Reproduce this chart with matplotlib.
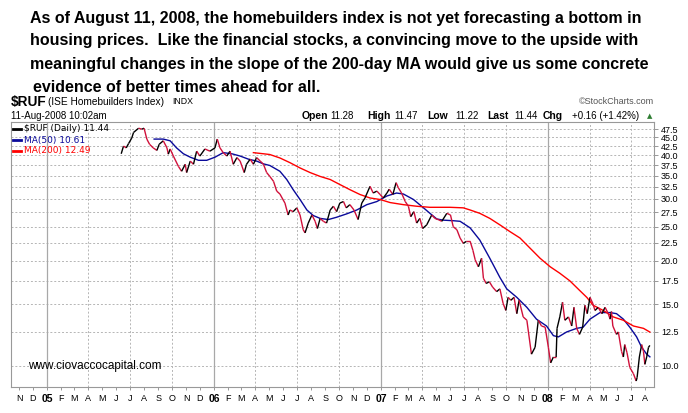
import pandas as pd
import matplotlib
matplotlib.use("Agg")
import matplotlib.pyplot as plt
import matplotlib.dates as mdates
from matplotlib.collections import LineCollection

# -----------------------------
# 1. Values
# -----------------------------
price_dates = [
    "2005-06-12", "2005-06-17", "2005-06-23", "2005-06-28", "2005-07-05", "2005-07-09",
    "2005-07-20", "2005-07-27", "2005-08-01", "2005-08-07", "2005-08-13", "2005-08-21",
    "2005-08-29", "2005-09-03", "2005-09-12", "2005-09-20", "2005-09-23", "2005-09-27",
    "2005-10-04", "2005-10-15", "2005-10-22", "2005-10-30", "2005-11-02", "2005-11-10",
    "2005-11-17", "2005-11-24", "2005-12-01", "2005-12-12", "2005-12-23", "2006-01-03",
    "2006-01-08", "2006-01-14", "2006-01-21", "2006-01-29", "2006-02-05", "2006-02-12",
    "2006-02-20", "2006-02-27", "2006-03-08", "2006-03-13", "2006-03-21", "2006-03-28",
    "2006-04-04", "2006-04-12", "2006-04-19", "2006-04-26", "2006-05-03", "2006-05-11",
    "2006-05-18", "2006-05-25", "2006-06-05", "2006-06-12", "2006-06-16", "2006-06-23",
    "2006-07-01", "2006-07-08", "2006-07-15", "2006-07-19", "2006-07-26", "2006-08-03",
    "2006-08-10", "2006-08-15", "2006-08-21", "2006-08-28", "2006-09-04", "2006-09-12",
    "2006-09-19", "2006-09-26", "2006-10-03", "2006-10-11", "2006-10-17", "2006-10-25",
    "2006-11-03", "2006-11-12", "2006-11-20", "2006-11-27", "2006-12-08", "2006-12-15",
    "2006-12-23", "2006-12-30", "2007-01-06", "2007-01-14", "2007-01-19", "2007-01-27",
    "2007-02-03", "2007-02-08", "2007-02-15", "2007-02-23", "2007-03-02", "2007-03-07",
    "2007-03-14", "2007-03-20", "2007-03-27", "2007-04-02", "2007-04-11", "2007-04-22",
    "2007-04-29", "2007-05-06", "2007-05-14", "2007-05-25", "2007-06-02", "2007-06-08",
    "2007-06-16", "2007-06-23", "2007-06-30", "2007-07-07", "2007-07-15", "2007-07-21",
    "2007-07-26", "2007-08-02", "2007-08-09", "2007-08-13", "2007-08-19", "2007-08-26",
    "2007-09-02", "2007-09-11", "2007-09-18", "2007-09-25", "2007-10-01", "2007-10-06",
    "2007-10-12", "2007-10-19", "2007-10-25", "2007-10-30", "2007-11-08", "2007-11-16",
    "2007-11-26", "2007-12-04", "2007-12-11", "2007-12-18", "2007-12-26", "2008-01-02",
    "2008-01-07", "2008-01-13", "2008-01-19", "2008-01-21", "2008-01-27", "2008-02-02",
    "2008-02-07", "2008-02-15", "2008-02-22", "2008-02-27", "2008-03-04", "2008-03-10",
    "2008-03-17", "2008-03-22", "2008-03-27", "2008-04-02", "2008-04-08", "2008-04-13",
    "2008-04-20", "2008-04-28", "2008-05-05", "2008-05-12", "2008-05-16", "2008-05-19",
    "2008-05-22", "2008-05-30", "2008-06-03", "2008-06-10", "2008-06-14", "2008-06-17",
    "2008-06-22", "2008-06-28", "2008-07-06", "2008-07-12", "2008-07-14", "2008-07-19",
    "2008-07-24", "2008-07-28", "2008-07-31", "2008-08-04", "2008-08-08", "2008-08-11",
]
price_vals = [
    40.4, 42.5, 42.0, 43.2, 44.8, 46.5,
    47.8, 47.5, 47.8, 44.5, 43.0, 42.0,
    41.3, 43.0, 44.0, 42.0, 40.3, 41.7,
    39.8, 37.2, 36.0, 37.7, 35.7, 38.5,
    37.7, 41.1, 39.8, 41.7, 41.1, 42.0,
    44.5, 42.0, 40.7, 39.8, 41.1, 37.7,
    39.4, 38.5, 35.7, 37.7, 39.0, 37.7,
    39.4, 38.5, 37.7, 35.7, 34.8, 33.7,
    31.6, 31.0, 29.2, 27.0, 27.9, 27.6,
    28.3, 27.0, 24.5, 24.0, 25.6, 27.0,
    25.9, 24.7, 26.4, 25.9, 25.6, 27.9,
    28.6, 27.6, 29.2, 29.5, 28.3, 28.9,
    27.9, 26.2, 29.2, 30.2, 32.6, 31.2,
    31.6, 30.9, 30.2, 31.2, 32.0, 30.9,
    33.4, 32.3, 31.2, 29.5, 28.6, 26.7,
    27.6, 25.6, 26.4, 24.7, 25.3, 27.0,
    26.4, 26.2, 25.9, 27.3, 27.0, 25.0,
    24.5, 23.2, 22.4, 22.7, 22.7, 21.4,
    20.1, 19.2, 20.3, 17.8, 17.2, 17.4,
    16.8, 16.3, 16.6, 15.1, 14.4, 15.7,
    15.4, 15.7, 14.1, 15.4, 13.8, 13.5,
    10.8, 11.3, 13.5, 13.0, 12.9, 11.3,
    10.2, 10.6, 10.6, 12.8, 13.8, 15.2,
    13.5, 13.8, 13.0, 14.7, 12.8, 12.3,
    12.9, 14.9, 14.1, 15.7, 15.1, 14.4,
    14.7, 14.1, 14.7, 14.1, 13.6, 14.3,
    13.0, 12.3, 12.5, 11.0, 10.6, 11.5,
    10.9, 9.9, 9.5, 9.05, 9.25, 10.6,
    11.5, 11.0, 10.1, 10.6, 11.3, 11.44,
]

ma50_dates = [
    "2005-08-23", "2005-09-12", "2005-09-27", "2005-10-11", "2005-10-26", "2005-11-10",
    "2005-11-28", "2005-12-16", "2006-01-03", "2006-01-21", "2006-02-09", "2006-02-27",
    "2006-03-17", "2006-04-04", "2006-04-19", "2006-05-03", "2006-05-25", "2006-06-09",
    "2006-06-23", "2006-07-08", "2006-07-23", "2006-08-06", "2006-08-21", "2006-09-08",
    "2006-09-26", "2006-10-18", "2006-11-09", "2006-12-01", "2006-12-23", "2007-01-14",
    "2007-02-04", "2007-02-19", "2007-03-13", "2007-04-04", "2007-04-18", "2007-05-03",
    "2007-05-17", "2007-06-08", "2007-06-23", "2007-07-15", "2007-08-05", "2007-08-27",
    "2007-09-18", "2007-10-03", "2007-10-25", "2007-11-16", "2007-12-07", "2007-12-29",
    "2008-01-13", "2008-01-24", "2008-02-11", "2008-03-04", "2008-03-18", "2008-04-02",
    "2008-04-24", "2008-05-16", "2008-05-30", "2008-06-14", "2008-06-28", "2008-07-13",
    "2008-07-24", "2008-08-04", "2008-08-11",
]
ma50_vals = [
    44.5, 44.5, 44.0, 42.0, 40.4, 39.5,
    38.7, 38.7, 39.5, 40.7, 40.4, 39.8,
    39.0, 38.5, 37.8, 37.4, 36.0, 34.1,
    31.9, 29.9, 27.9, 26.9, 26.4, 26.2,
    26.6, 27.2, 27.9, 28.9, 29.5, 30.6,
    31.2, 31.0, 29.9, 28.3, 27.3, 26.3,
    26.1, 26.0, 25.9, 24.8, 22.9, 20.3,
    17.9, 16.6, 15.7, 14.7, 13.6, 13.0,
    12.2, 12.1, 12.5, 12.8, 12.9, 13.6,
    14.2, 14.2, 14.1, 13.6, 12.9, 12.1,
    11.3, 10.8, 10.61,
]

ma200_dates = [
    "2006-03-28", "2006-04-19", "2006-05-03", "2006-05-25", "2006-06-16", "2006-07-08",
    "2006-07-30", "2006-08-21", "2006-09-12", "2006-10-03", "2006-10-25", "2006-11-16",
    "2006-12-08", "2006-12-30", "2007-01-21", "2007-02-19", "2007-03-20", "2007-04-18",
    "2007-06-01", "2007-06-30", "2007-07-15", "2007-08-05", "2007-08-27", "2007-09-18",
    "2007-10-10", "2007-11-01", "2007-11-23", "2007-12-15", "2008-01-06", "2008-01-27",
    "2008-02-18", "2008-03-11", "2008-03-26", "2008-04-09", "2008-05-01", "2008-05-23",
    "2008-06-14", "2008-07-06", "2008-07-28", "2008-08-11",
]
ma200_vals = [
    40.7, 40.4, 40.2, 39.3, 38.1, 36.8,
    35.7, 34.8, 34.1, 33.0, 31.9, 30.9,
    30.2, 29.9, 29.3, 28.9, 28.6, 28.4,
    28.4, 28.3, 27.9, 27.3, 26.4, 25.3,
    24.2, 23.2, 21.7, 20.3, 19.2, 18.4,
    17.5, 16.4, 15.7, 14.9, 14.4, 13.8,
    13.5, 13.0, 12.8, 12.49,
]

ytick_vals = [10.0, 12.5, 15.0, 17.5, 20.0, 22.5, 25.0, 27.5, 30.0, 32.5, 35.0, 37.5, 40.0, 42.5, 45.0, 47.5]
month_letters = ["J", "F", "M", "A", "M", "J", "J", "A", "S", "O", "N", "D"]

title_lines = [
    "As of August 11, 2008, the homebuilders index is not yet forecasting a bottom in",
    "housing prices.  Like the financial stocks, a convincing move to the upside with",
    "meaningful changes in the slope of the 200-day MA would give us some concrete",
    "evidence of better times ahead for all.",
]

# -----------------------------
# 2. Figure
# -----------------------------
W, H = 688, 413
fig = plt.figure(figsize=(W / 100, H / 100), dpi=100)
ax = fig.add_axes([11 / W, 1 - 387 / H, (654 - 11) / W, (387 - 122) / H])


def fx(x):
    return x / W


def fy(y):
    return 1 - y / H


sans = "Liberation Sans"

# header text block
title_x = [30, 30, 30, 33]
title_y = [18, 41, 64, 87]
for line, tx, ty in zip(title_lines, title_x, title_y):
    fig.text(fx(tx), fy(ty), line, family=sans, fontweight="bold", fontsize=11.5,
             ha="left", va="center", color="black")

fig.text(fx(11), fy(102), "$RUF", family=sans, fontweight="bold", fontsize=9.8, va="center")
fig.text(fx(48), fy(102), "(ISE Homebuilders Index)", family=sans, fontsize=7.3, va="center")
fig.text(fx(172), fy(102), "INDX", family=sans, fontsize=6.3, va="center")
fig.text(fx(11), fy(116), "11-Aug-2008 10:02am", family=sans, fontsize=7, va="center")
fig.text(fx(654), fy(102), "\u00a9StockCharts.com", family=sans, fontsize=6.5,
         va="center", ha="right", color="#555555")

quote = [(302, "Open", True), (330, "11.28", False), (367, "High", True), (394, "11.47", False),
         (427, "Low", True), (455, "11.22", False), (487, "Last", True), (514, "11.44", False),
         (543, "Chg", True), (572, "+0.16 (+1.42%)", False)]
for qx, qt, qb in quote:
    fig.text(fx(qx), fy(116), qt, family=sans, fontsize=7.5 if qb else 7,
             fontweight="bold" if qb else "normal", va="center")
fig.text(fx(647), fy(116), "\u25b2", family="DejaVu Sans", fontsize=5, va="center", color="#2e7d32")

# -----------------------------
# 3. Lines
# -----------------------------
px_d = mdates.date2num(pd.to_datetime(price_dates))
segs = [[(px_d[i], price_vals[i]), (px_d[i + 1], price_vals[i + 1])] for i in range(len(px_d) - 1)]
seg_cols = ["black" if price_vals[i + 1] > price_vals[i] else "#d0103a" for i in range(len(px_d) - 1)]
ax.add_collection(LineCollection(segs, colors=seg_cols, linewidths=1.0, zorder=4))

ax.plot(pd.to_datetime(ma50_dates), ma50_vals, color="#0a0a9a", lw=1.0, zorder=3)
ax.plot(pd.to_datetime(ma200_dates), ma200_vals, color="#ff0000", lw=1.0, zorder=3)

ax.set_yscale("log")
ax.set_ylim(8.7, 49.8)
ax.set_xlim(pd.Timestamp("2004-10-14"), pd.Timestamp("2008-08-20"))

# -----------------------------
# 4. Axes styling
# -----------------------------
ax.yaxis.tick_right()
ax.set_yticks(ytick_vals)
ax.set_yticklabels(["%.1f" % v for v in ytick_vals], family=sans, fontsize=6.5)
ax.yaxis.set_minor_locator(matplotlib.ticker.NullLocator())
ax.tick_params(axis="y", length=3, width=0.6, color="#888888", pad=2)

months = pd.date_range("2004-11-01", "2008-08-01", freq="MS")
ax.set_xticks(months)
labels = []
for m in months:
    labels.append(m.strftime("%y") if m.month == 1 else month_letters[m.month - 1])
ax.set_xticklabels(labels, family=sans, fontsize=6.5)
for lab, m in zip(ax.get_xticklabels(), months):
    if m.month == 1:
        lab.set_fontweight("bold")
        lab.set_fontsize(7.5)
ax.tick_params(axis="x", length=2, width=0.6, color="#888888", pad=3)

for v in ytick_vals:
    ax.axhline(v, color="#b5b5b5", lw=0.7, ls=(0, (2, 2)), zorder=1)
for m in months:
    if m.month == 1:
        ax.axvline(m, color="#a8a8a8", lw=0.9, zorder=1)
    elif m.month in (4, 7, 10):
        ax.axvline(m, color="#b5b5b5", lw=0.7, ls=(0, (2, 2)), zorder=1)

for side in ax.spines.values():
    side.set_color("#999999")
    side.set_linewidth(0.8)

# legend text inside the plot
leg = [("$RUF (Daily) 11.44", "black", 129), ("MA(50) 10.61", "#0a0a9a", 140),
       ("MA(200) 12.49", "#ff0000", 151)]
for lt, lc, ly in leg:
    fig.add_artist(plt.Line2D([fx(13), fx(21)], [fy(ly), fy(ly)], color=lc, lw=2))
    fig.text(fx(24), fy(ly), lt, family="DejaVu Sans", fontsize=6.5, color=lc, va="center")

fig.text(fx(28), fy(366), "www.ciovaccocapital.com", family=sans, fontsize=8.5, va="center")

fig.savefig("out.png", dpi=100)
